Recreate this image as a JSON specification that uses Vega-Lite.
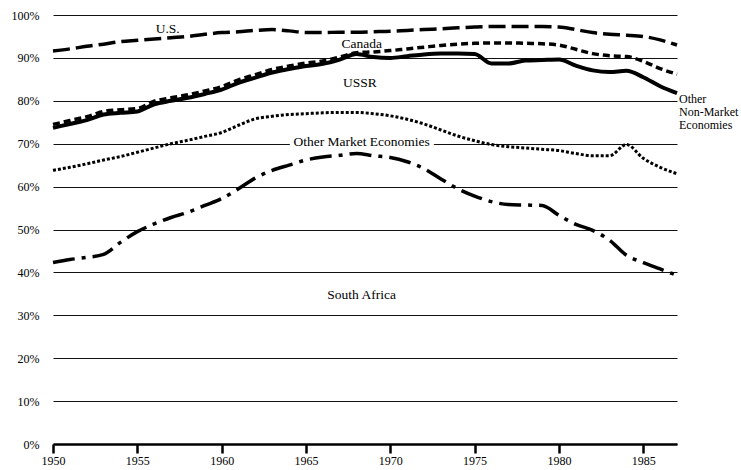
{
  "$schema": "https://vega.github.io/schema/vega-lite/v6.json",
  "width": 624,
  "height": 429,
  "autosize": {"type": "none"},
  "padding": {"left": 53, "top": 15, "right": 64, "bottom": 26},
  "background": "white",
  "config": {"view": {"stroke": null}, "font": "Liberation Serif"},
  "datasets": {
    "series": [
      {"year": 1950, "US": 91.6, "Canada": 74.5, "USSR": 73.7, "OtherMarket": 63.8, "SouthAfrica": 42.3},
      {"year": 1951, "US": 92.1, "Canada": 75.4, "USSR": 74.6, "OtherMarket": 64.5, "SouthAfrica": 43.0},
      {"year": 1952, "US": 92.7, "Canada": 76.3, "USSR": 75.5, "OtherMarket": 65.3, "SouthAfrica": 43.5},
      {"year": 1953, "US": 93.2, "Canada": 77.5, "USSR": 76.8, "OtherMarket": 66.2, "SouthAfrica": 44.2},
      {"year": 1954, "US": 93.8, "Canada": 77.9, "USSR": 77.2, "OtherMarket": 67.0, "SouthAfrica": 47.0},
      {"year": 1955, "US": 94.1, "Canada": 78.2, "USSR": 77.5, "OtherMarket": 68.0, "SouthAfrica": 49.5},
      {"year": 1956, "US": 94.4, "Canada": 79.9, "USSR": 79.2, "OtherMarket": 69.0, "SouthAfrica": 51.3},
      {"year": 1957, "US": 94.7, "Canada": 80.7, "USSR": 80.0, "OtherMarket": 70.0, "SouthAfrica": 52.8},
      {"year": 1958, "US": 95.0, "Canada": 81.4, "USSR": 80.7, "OtherMarket": 70.8, "SouthAfrica": 54.0},
      {"year": 1959, "US": 95.5, "Canada": 82.3, "USSR": 81.6, "OtherMarket": 71.7, "SouthAfrica": 55.6},
      {"year": 1960, "US": 95.9, "Canada": 83.3, "USSR": 82.6, "OtherMarket": 72.6, "SouthAfrica": 57.2},
      {"year": 1961, "US": 96.1, "Canada": 84.9, "USSR": 84.2, "OtherMarket": 74.3, "SouthAfrica": 59.5},
      {"year": 1962, "US": 96.4, "Canada": 86.1, "USSR": 85.4, "OtherMarket": 75.8, "SouthAfrica": 62.0},
      {"year": 1963, "US": 96.6, "Canada": 87.3, "USSR": 86.6, "OtherMarket": 76.4, "SouthAfrica": 63.8},
      {"year": 1964, "US": 96.3, "Canada": 88.1, "USSR": 87.4, "OtherMarket": 76.8, "SouthAfrica": 65.0},
      {"year": 1965, "US": 95.9, "Canada": 88.8, "USSR": 88.1, "OtherMarket": 77.0, "SouthAfrica": 66.2},
      {"year": 1966, "US": 95.9, "Canada": 89.3, "USSR": 88.6, "OtherMarket": 77.2, "SouthAfrica": 66.9},
      {"year": 1967, "US": 96.0, "Canada": 90.2, "USSR": 89.6, "OtherMarket": 77.3, "SouthAfrica": 67.3},
      {"year": 1968, "US": 96.0, "Canada": 91.2, "USSR": 90.9, "OtherMarket": 77.3, "SouthAfrica": 67.7},
      {"year": 1969, "US": 96.1, "Canada": 91.4, "USSR": 90.2, "OtherMarket": 77.0, "SouthAfrica": 67.2},
      {"year": 1970, "US": 96.2, "Canada": 91.7, "USSR": 90.0, "OtherMarket": 76.5, "SouthAfrica": 66.8},
      {"year": 1971, "US": 96.4, "Canada": 92.1, "USSR": 90.4, "OtherMarket": 75.7, "SouthAfrica": 65.8},
      {"year": 1972, "US": 96.6, "Canada": 92.5, "USSR": 90.8, "OtherMarket": 74.6, "SouthAfrica": 64.2},
      {"year": 1973, "US": 96.8, "Canada": 92.9, "USSR": 91.0, "OtherMarket": 73.2, "SouthAfrica": 61.8},
      {"year": 1974, "US": 97.0, "Canada": 93.2, "USSR": 91.0, "OtherMarket": 71.8, "SouthAfrica": 59.5},
      {"year": 1975, "US": 97.2, "Canada": 93.4, "USSR": 90.9, "OtherMarket": 70.7, "SouthAfrica": 57.8},
      {"year": 1976, "US": 97.3, "Canada": 93.5, "USSR": 88.7, "OtherMarket": 69.8, "SouthAfrica": 56.5},
      {"year": 1977, "US": 97.3, "Canada": 93.5, "USSR": 88.7, "OtherMarket": 69.3, "SouthAfrica": 55.8},
      {"year": 1978, "US": 97.3, "Canada": 93.4, "USSR": 89.4, "OtherMarket": 69.0, "SouthAfrica": 55.7},
      {"year": 1979, "US": 97.3, "Canada": 93.3, "USSR": 89.5, "OtherMarket": 68.7, "SouthAfrica": 55.6},
      {"year": 1980, "US": 97.2, "Canada": 93.0, "USSR": 89.6, "OtherMarket": 68.4, "SouthAfrica": 53.3},
      {"year": 1981, "US": 96.6, "Canada": 92.0, "USSR": 88.2, "OtherMarket": 67.7, "SouthAfrica": 51.2},
      {"year": 1982, "US": 95.9, "Canada": 91.0, "USSR": 87.1, "OtherMarket": 67.2, "SouthAfrica": 49.8},
      {"year": 1983, "US": 95.5, "Canada": 90.5, "USSR": 86.7, "OtherMarket": 67.2, "SouthAfrica": 47.5},
      {"year": 1984, "US": 95.3, "Canada": 90.3, "USSR": 87.0, "OtherMarket": 69.8, "SouthAfrica": 44.0},
      {"year": 1985, "US": 95.0, "Canada": 89.2, "USSR": 85.5, "OtherMarket": 66.6, "SouthAfrica": 42.3},
      {"year": 1986, "US": 94.2, "Canada": 87.5, "USSR": 83.4, "OtherMarket": 64.5, "SouthAfrica": 40.8},
      {"year": 1987, "US": 93.0, "Canada": 86.2, "USSR": 81.8, "OtherMarket": 63.0, "SouthAfrica": 39.3}
    ],
    "labels": [
      {"label": "U.S.", "year": 1956.8, "value": 96.7},
      {"label": "Canada", "year": 1968.3, "value": 93.3},
      {"label": "USSR", "year": 1968.2, "value": 84.2},
      {"label": "Other Market Economies", "year": 1968.3, "value": 70.5},
      {"label": "South Africa", "year": 1968.3, "value": 34.7}
    ],
    "sidelabels": [
      {"label": ["Other", "Non-Market", "Economies"], "year": 1987, "value": 80.4}
    ]
  },
  "encoding": {
    "x": {
      "field": "year",
      "type": "quantitative",
      "scale": {"domain": [1950, 1987], "nice": false, "zero": false},
      "axis": {
        "title": null,
        "values": [1950, 1955, 1960, 1965, 1970, 1975, 1980, 1985],
        "format": "d",
        "grid": false,
        "domain": true,
        "domainColor": "#000",
        "domainWidth": 2.5,
        "ticks": true,
        "tickSize": 9,
        "tickWidth": 2.5,
        "tickColor": "#000",
        "labelFlush": false,
        "labelOverlap": false,
        "labelFont": "Liberation Serif",
        "labelFontSize": 12,
        "labelColor": "#000",
        "labelPadding": 2
      }
    },
    "y": {
      "field": "value",
      "type": "quantitative",
      "scale": {"domain": [0, 100], "nice": false},
      "axis": {
        "title": null,
        "values": [0, 10, 20, 30, 40, 50, 60, 70, 80, 90, 100],
        "labelExpr": "datum.value + '%'",
        "grid": true,
        "gridColor": "#111",
        "gridWidth": 1,
        "gridOpacity": 1,
        "domain": false,
        "ticks": false,
        "tickSize": 0,
        "labelFlush": false,
        "labelFont": "Liberation Serif",
        "labelFontSize": 12,
        "labelColor": "#000",
        "labelPadding": 14
      }
    }
  },
  "layer": [
    {
      "data": {"name": "labels"},
      "transform": [{"filter": "datum.label === 'Other Market Economies'"}],
      "mark": {"type": "text", "font": "Liberation Serif", "fontSize": 13.5, "fill": "white", "stroke": "white", "strokeWidth": 9, "baseline": "middle", "align": "center"},
      "encoding": {"text": {"field": "label", "type": "nominal"}}
    },
    {
      "data": {"name": "series"},
      "transform": [{"fold": ["US", "Canada", "USSR", "OtherMarket", "SouthAfrica"], "as": ["series", "value"]}],
      "layer": [
        {
          "transform": [{"filter": "datum.series === 'US'"}],
          "mark": {"type": "line", "stroke": "#000", "strokeWidth": 3.5, "strokeDash": [17, 6], "interpolate": "monotone", "strokeCap": "butt"}
        },
        {
          "transform": [{"filter": "datum.series === 'Canada'"}],
          "mark": {"type": "line", "stroke": "#000", "strokeWidth": 3.5, "strokeDash": [7, 4], "interpolate": "monotone", "strokeCap": "butt"}
        },
        {
          "transform": [{"filter": "datum.series === 'USSR'"}],
          "mark": {"type": "line", "stroke": "#000", "strokeWidth": 4, "interpolate": "monotone"}
        },
        {
          "transform": [{"filter": "datum.series === 'OtherMarket'"}],
          "mark": {"type": "line", "stroke": "#000", "strokeWidth": 3, "strokeDash": [3, 2], "interpolate": "monotone", "strokeCap": "butt"}
        },
        {
          "transform": [{"filter": "datum.series === 'SouthAfrica'"}],
          "mark": {"type": "line", "stroke": "#000", "strokeWidth": 3.5, "strokeDash": [22, 7, 4, 7], "interpolate": "monotone", "strokeCap": "butt"}
        }
      ]
    },
    {
      "data": {"name": "labels"},
      "mark": {"type": "text", "font": "Liberation Serif", "fontSize": 13.5, "fill": "#000", "baseline": "middle", "align": "center"},
      "encoding": {"text": {"field": "label", "type": "nominal"}}
    },
    {
      "data": {"name": "sidelabels"},
      "mark": {"type": "text", "font": "Liberation Serif", "fontSize": 12, "fill": "#000", "baseline": "middle", "align": "left", "dx": 2, "lineHeight": 13},
      "encoding": {"text": {"field": "label", "type": "nominal"}}
    }
  ]
}
